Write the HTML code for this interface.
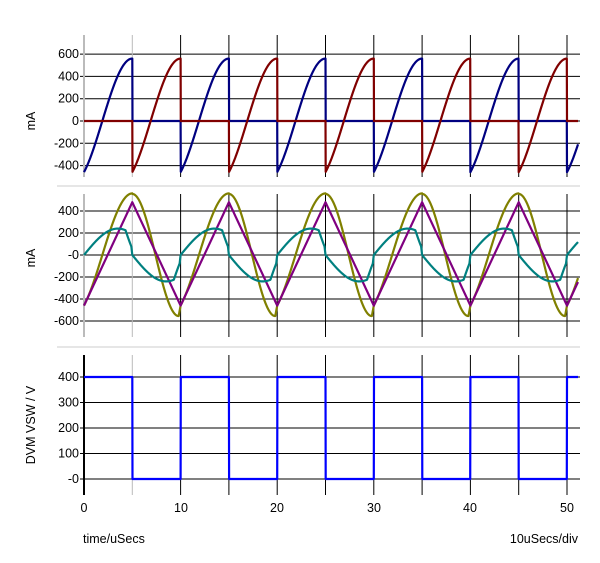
<!DOCTYPE html><html><head><style>body{margin:0;background:#fff}svg{display:block;font-family:"Liberation Sans",Arial,sans-serif;font-size:12.5px}</style></head><body>
<svg id="s" width="600" height="563" xmlns="http://www.w3.org/2000/svg">
<rect width="600" height="563" fill="#fff"/>
<g id="grid"></g>
<g id="lbl" fill="#000" text-anchor="end"></g>
<g fill="#000">
<text transform="translate(35,121) rotate(-90)" text-anchor="middle">mA</text>
<text transform="translate(35,258) rotate(-90)" text-anchor="middle">mA</text>
<text transform="translate(35,425) rotate(-90)" text-anchor="middle">DVM VSW / V</text>
<text x="84" y="512" text-anchor="middle">0</text><text x="181" y="512" text-anchor="middle">10</text><text x="277" y="512" text-anchor="middle">20</text><text x="374" y="512" text-anchor="middle">30</text><text x="470" y="512" text-anchor="middle">40</text><text x="567" y="512" text-anchor="middle">50</text>
<text x="83" y="543">time/uSecs</text><text x="578" y="543" text-anchor="end">10uSecs/div</text>
</g>
<g id="curves" fill="none" stroke-width="2.2" stroke-linejoin="round"></g>
</svg>
<script>
const NS="http://www.w3.org/2000/svg";
const X=t=>84+9.66*t;
function el(p,tag,a){const e=document.createElementNS(NS,tag);for(const k in a)e.setAttribute(k,a[k]);p.appendChild(e);return e;}
const g=document.getElementById('grid'),L=document.getElementById('lbl'),C=document.getElementById('curves');
const panels=[{top:35,bot:177,y:v=>121-v*0.1115,ticks:[600,400,200,0,-200,-400],z:'0'},
{top:194,bot:337,y:v=>255-v*0.11,ticks:[400,200,0,-200,-400,-600],z:'-0'},
{top:355,bot:495,y:v=>479-v*0.255,ticks:[400,300,200,100,0],z:'-0'}];
panels.forEach(p=>{
 p.ticks.forEach(v=>{const y=p.y(v);el(g,'line',{x1:80,x2:580,y1:y,y2:y,stroke:'#000','stroke-width':1});
  const t=el(L,'text',{x:79,y:y+4});t.textContent=(v==0?p.z:v);});
 for(let t=0;t<=50;t+=5){el(g,'line',{x1:X(t),x2:X(t),y1:p.top,y2:p.bot,stroke:t==0||t==5?'#bbb':'#000','stroke-width':t==0?2:1});}
});
el(g,'line',{x1:57,x2:580,y1:186,y2:186,stroke:'#ccc'});
el(g,'line',{x1:57,x2:580,y1:347,y2:347,stroke:'#ccc'});
el(g,'line',{x1:84,x2:84,y1:355,y2:495,stroke:'#000','stroke-width':2});
const w=0.506,ph=-0.96,T=51.15;
const f=s=>560*Math.sin(w*s+ph);
const tri=t=>{const m=((t%10)+10)%10;return m<5?-460+940*m/5:480-940*(m-5)/5;};
function path(fn,col,p){let d='';for(let t=0;t<=T;t+=0.02){d+=(d?'L':'M')+X(t).toFixed(2)+','+p.y(fn(t)).toFixed(2);}el(C,'path',{d:d,stroke:col});}
const P=panels;
path(t=>{const m=t%10;return m<5?f(m):0},'#000080',P[0]);
path(t=>{const m=t%10;return m>=5?f(m-5):0},'#800000',P[0]);
const ol=t=>{const m=t%10;if(m<5)return f(m);if(m<9.8)return 555*Math.cos(Math.PI*(m-5)/4.8);return -555+95*(m-9.8)/0.2;};
path(ol,'#808000',P[1]);
path(tri,'#800080',P[1]);
const h=s=>{let v=240*Math.sin(Math.PI*s/7);if(s>4.3)v*=Math.max(0,(5-s)/0.7)*0.5+ (s<4.9?0.5*(4.9-s)/0.6*0:0);if(s>4.3&&s<=4.9)v=240*Math.sin(Math.PI*s/7)*(1-(s-4.3)/0.6*0.6);if(s>4.9)v=Math.max(0,240*Math.sin(Math.PI*4.9/7)*0.4*(5-s)/0.1);return v;};
path(t=>{const m=t%10;return m<5?h(m):-h(m-5)},'#008080',P[1]);
path(t=>{const m=t%10;return m<5?400:0},'#0000ff',P[2]);
</script>
</body></html>
